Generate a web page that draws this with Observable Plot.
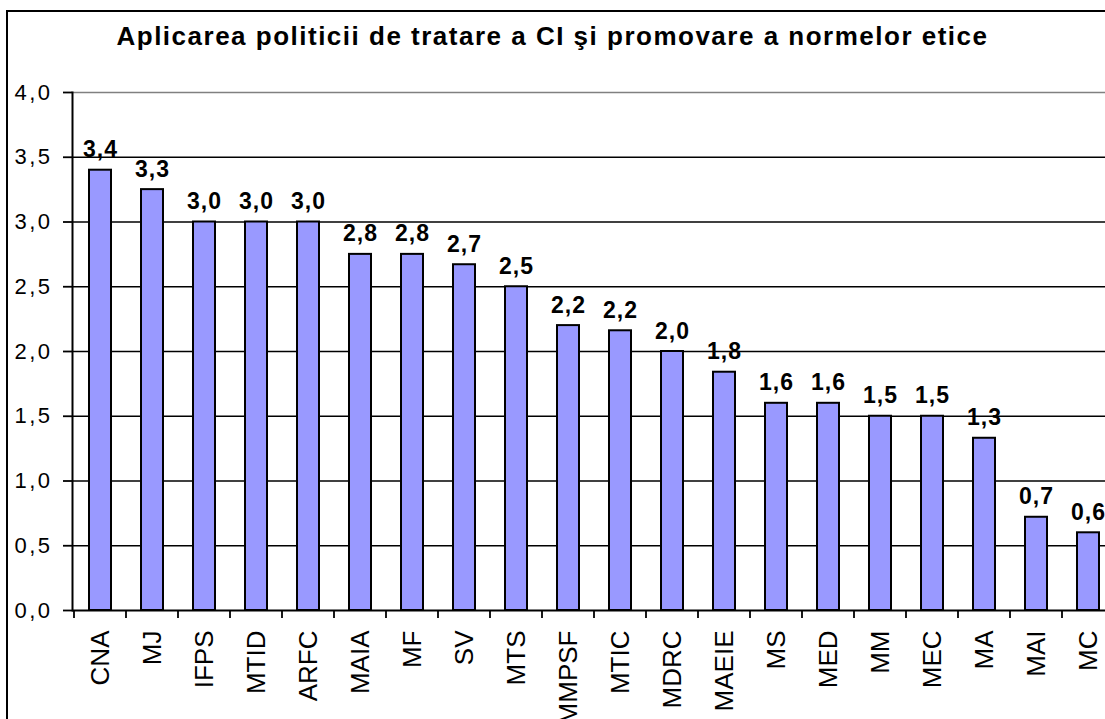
<!DOCTYPE html>
<html>
<head>
<meta charset="utf-8">
<script src="https://cdn.jsdelivr.net/npm/d3@7"></script>
<script src="https://cdn.jsdelivr.net/npm/@observablehq/plot@0.6"></script>
<style>
  html, body { margin: 0; padding: 0; background: #fff; overflow: hidden; width: 1105px; height: 719px; }
  #frame { position: absolute; left: 6px; top: 10px; width: 1200px; height: 800px; border-left: 2px solid #000; border-top: 2px solid #000; }
  #title { position: absolute; left: 0; top: 0; width: 1105px; height: 60px; box-sizing: border-box; padding-top: 21px; line-height: 30px; text-align: center; font: bold 26px "Liberation Sans", Arial, sans-serif; letter-spacing: 1.5px; color: #000; white-space: nowrap; }
  #chart { position: absolute; left: 0; top: 60px; }
  #chart svg { max-width: none; }
</style>
</head>
<body>
<div id="frame"></div>
<div id="title">Aplicarea politicii de tratare a CI şi promovare a normelor etice</div>
<div id="chart"></div>
<script>
const categories = ["CNA","MJ","IFPS","MTID","ARFC","MAIA","MF","SV","MTS","MMPSF","MTIC","MDRC","MAEIE","MS","MED","MM","MEC","MA","MAI","MC"];
const values = [3.4, 3.25, 3.0, 3.0, 3.0, 2.75, 2.75, 2.67, 2.5, 2.2, 2.16, 2.0, 1.84, 1.6, 1.6, 1.5, 1.5, 1.33, 0.72, 0.6];
const valueLabels = ["3,4","3,3","3,0","3,0","3,0","2,8","2,8","2,7","2,5","2,2","2,2","2,0","1,8","1,6","1,6","1,5","1,5","1,3","0,7","0,6"];
const yTicks = [0, 0.5, 1, 1.5, 2, 2.5, 3, 3.5, 4];
const yTickLabels = ["0,0","0,5","1,0","1,5","2,0","2,5","3,0","3,5","4,0"];

const data = categories.map((c, i) => ({name: c, value: values[i], label: valueLabels[i]}));
const font = '"Liberation Sans", Arial, sans-serif';

function boundaryTicks(index, scales) {
  const x = scales.x;
  const bw = typeof x.bandwidth === "function" ? x.bandwidth() : (x.bandwidth || 0);
  const step = x(categories[1]) - x(categories[0]);
  const y0 = scales.y(0);
  const g = d3.create("svg:g").attr("stroke", "#000").attr("stroke-width", 1.8);
  categories.forEach((c) => {
    const bx = x(c) + bw / 2 - step / 2;
    g.append("line").attr("x1", bx).attr("x2", bx).attr("y1", y0).attr("y2", y0 + 8);
  });
  return g.node();
}

const chart = Plot.plot({
  width: 1105,
  height: 659,
  marginTop: 32,
  marginBottom: 109,
  marginLeft: 72,
  marginRight: 0,
  style: {fontFamily: font, color: "#000", background: "transparent", overflow: "visible"},
  x: {domain: categories, range: [72, 1115], paddingInner: 0.584, paddingOuter: 0.292, align: 0.5, label: null},
  y: {domain: [0, 4], label: null},
  marks: [
    Plot.ruleY(yTicks.filter(d => d > 0), {stroke: d => d === 4 ? "#808080" : "#000", strokeWidth: 1.5}),
    Plot.barY(data, {x: "name", y: "value", fill: "#9999FF", stroke: "#000", strokeWidth: 2}),
    Plot.ruleY([0], {stroke: "#000", strokeWidth: 2}),
    Plot.frame({anchor: "left", stroke: "#000", strokeWidth: 2}),
    Plot.axisY({ticks: yTicks, tickSize: 9, tickPadding: 11, tickFormat: d => yTickLabels[yTicks.indexOf(d)], fontSize: 22, stroke: "#000", strokeWidth: 1.8}),
    Plot.axisX({tickSize: 0, tickRotate: -90, tickPadding: 20, fontSize: 26}),
    boundaryTicks,
    Plot.text(data, {x: "name", y: "value", text: "label", dy: -13, lineAnchor: "bottom", fontWeight: "bold", fontSize: 23, fill: "#000"})
  ]
});
document.getElementById("chart").appendChild(chart);
d3.select(chart).selectAll('g[aria-label="y-axis tick label"] text').attr("letter-spacing", "2.5px");
d3.select(chart).selectAll('g[aria-label="text"] text').attr("letter-spacing", "1px");
</script>
</body>
</html>
